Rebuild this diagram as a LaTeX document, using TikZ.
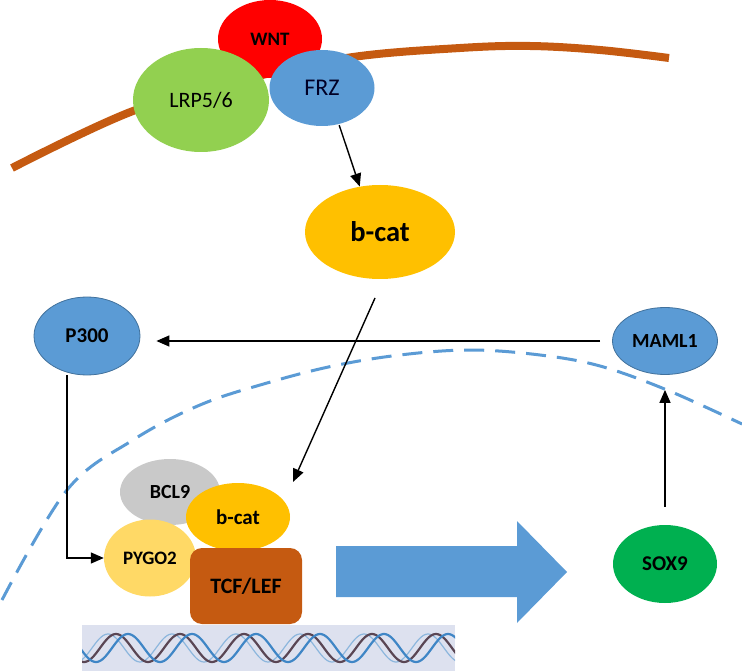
\documentclass[tikz,border=0pt]{standalone}
\usepackage{fontspec}
\setmainfont{Carlito}
\usetikzlibrary{shapes.geometric,arrows.meta,calc}
\definecolor{wntred}{HTML}{FF0000}
\definecolor{lrpgreen}{HTML}{92D050}
\definecolor{frzblue}{HTML}{5B9BD5}
\definecolor{blueline}{HTML}{41719C}
\definecolor{catgold}{HTML}{FFC000}
\definecolor{soxgreen}{HTML}{00B050}
\definecolor{bclgrey}{HTML}{C9C9C9}
\definecolor{pygoyel}{HTML}{FFD966}
\definecolor{tcfbrown}{HTML}{C55A11}
\definecolor{dnabg}{HTML}{DDE1EF}
\definecolor{dnadark}{HTML}{5A4654}
\definecolor{dnablue}{HTML}{3F86C6}
\begin{document}
\begin{tikzpicture}[x=1pt,y=-1pt,
  blob/.style={ellipse, inner sep=0pt, text=black},
  fr/.style={font=\fontsize{#1}{#1}\selectfont},
  fb/.style={font=\fontsize{#1}{#1}\selectfont\bfseries},
  arr/.style={-{Triangle[length=13pt,width=11pt]}, line width=1.4pt, black},
  membrane/.style={line width=8pt, tcfbrown},
  nucleus/.style={line width=3pt, frzblue, dash pattern=on 20pt off 11pt},
]
\useasboundingbox (0,0) rectangle (742,671);

% cell membrane
\draw[membrane] plot[smooth, tension=0.6] coordinates {(12,168) (133,111) (250,78) (353,57) (460,48) (530,46) (600,50) (669,58)};

% nuclear envelope
\draw[nucleus] plot[smooth, tension=0.6] coordinates {(2,600) (67,490) (133,440) (200,405) (267,383) (333,366) (400,355) (470,350) (540,355) (600,366) (667,390) (742,424)};

% receptor complex
\node[blob, fill=wntred, minimum width=104pt, minimum height=78pt, fb=19] (wnt) at (270,39) {WNT};
\node[blob, fill=lrpgreen, minimum width=136pt, minimum height=104pt, fr=22] (lrp) at (201,100) {LRP5/6};
\node[blob, fill=frzblue, minimum width=105pt, minimum height=76pt, fr=24, text={black!85!blue}] (frz) at (322,88) {FRZ};

% cytoplasmic b-catenin
\node[blob, fill=catgold, minimum width=150pt, minimum height=94pt, fb=28.5] (bcat) at (380,232) {b-cat};

% P300 and MAML1
\node[blob, fill=frzblue, draw=blueline, line width=0.8pt, minimum width=106pt, minimum height=78pt, fb=21] (p300) at (87,336) {P300};
\node[blob, fill=frzblue, draw=blueline, line width=0.8pt, minimum width=105pt, minimum height=67pt, fb=20] (maml) at (665,341) {MAML1};

% SOX9
\node[blob, fill=soxgreen, minimum width=104pt, minimum height=78pt, fb=21] (sox) at (665,564) {SOX9};

% DNA
\fill[dnabg] (82,625) rectangle (455,671);
\begin{scope}
\clip (82,625) rectangle (455,671);
\draw[dnablue!60, line width=1.2pt] plot[domain=80:457, samples=220] (\x,{648-14*sin(5.625*(\x-92))});
\draw[dnadark, line width=2.2pt] plot[domain=80:457, samples=220] (\x,{648-14*sin(5.625*(\x-100))});
\draw[dnablue, line width=2.2pt] plot[domain=80:457, samples=220] (\x,{648-14*sin(5.625*(\x-112))});
\end{scope}

% transcription complex
\node[blob, fill=bclgrey, minimum width=100pt, minimum height=66pt, fb=20] (bcl) at (170,492) {BCL9};
\node[blob, fill=pygoyel, minimum width=92pt, minimum height=77pt, fb=19] (pygo) at (150,558) {PYGO2};
\node[blob, fill=catgold, minimum width=104pt, minimum height=68pt, fb=21] (bcat2) at (238,517) {b-cat};
\node[rectangle, rounded corners=12pt, fill=tcfbrown, minimum width=112pt, minimum height=76pt, inner sep=0pt, fb=22] (tcf) at (246,586) {TCF/LEF};

% big transcription arrow
\fill[frzblue] (336,546) -- (517,546) -- (517,521) -- (567,572) -- (517,623) -- (517,597) -- (336,597) -- cycle;

% connectors
\coordinate (catout) at (375,298);
\coordinate (catin) at (293,482);
\draw[arr, shorten <=1pt] (frz.-65) -- (bcat.114);
\draw[arr] (catout) -- (catin);
\draw[arr, shorten <=12pt, shorten >=16pt] (maml.west) -- (maml.west -| p300.east);
\draw[arr] ([xshift=-20pt]p300.south) |- (pygo.west);
\draw[arr, shorten <=18pt, shorten >=15pt] (sox.north) -- (maml.south);
\end{tikzpicture}
\end{document}
